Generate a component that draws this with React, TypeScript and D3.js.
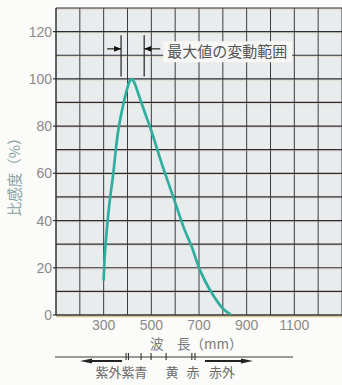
import React from "react";
import * as d3 from "d3";

// Spectral sensitivity curve: wavelength (nm) vs relative sensitivity (%)
const wavelengths = [300, 304, 313, 325, 338, 361, 382, 399, 410, 418, 428, 446, 470, 500, 544, 592, 636, 669, 704, 746, 788, 810, 830];
const sensitivity = [15, 24, 36, 48, 58, 78, 89, 96, 99.2, 100, 98.5, 93.5, 86.5, 78, 64, 50, 37, 29, 19, 10.6, 4.2, 1.8, 0.5];

const xTickLabels = [300, 500, 700, 900, 1100];
const yTickLabels = [0, 20, 40, 60, 80, 100, 120];

// range over which the maximum may shift
const peakRange = [373, 470];
const peakRangeLabel = "最大値の変動範囲";

// colour band boundaries and names along the spectrum bar
const bandTicks = [394, 404, 457, 499, 562, 670, 683];
const bandNames = ["紫外", "紫", "青", "黄", "赤", "赤外"];
const bandNamePos = [320, 402, 456, 587, 675, 797];

const W = 342;
const H = 385;
const m = { left: 56, top: 8, right: 342, bottom: 315 };

export default function App() {
  const x = d3.scaleLinear().domain([100, 1300]).range([m.left, m.right]);
  const y = d3.scaleLinear().domain([0, 130]).range([m.bottom, m.top]);

  const line = d3
    .line<number>()
    .x((_, i) => x(wavelengths[i]))
    .y((d) => y(d))
    .curve(d3.curveCatmullRom.alpha(0.5));

  const vGrid = d3.range(200, 1301, 100);
  const hGrid = d3.range(10, 131, 10);

  const numFont = "'Liberation Sans', 'DejaVu Sans', sans-serif";
  const jpFont = "'Noto Sans CJK JP', sans-serif";

  // annotation geometry
  const aTop = y(118.5);
  const aBot = y(101);
  const aY = y(112.7);
  const xl = x(peakRange[0]);
  const xr = x(peakRange[1]);
  const textX = xr + 23;
  const textY = y(110);

  const barY = 357;
  const arrowY = 361;

  const arrowHead = (tipX: number, tipY: number, dir: number, len = 7, half = 2.8) =>
    `M${tipX},${tipY} L${tipX - dir * len},${tipY - half} L${tipX - dir * len},${tipY + half} Z`;

  return (
    <svg
      width={W}
      height={H}
      style={{ position: "absolute", left: 0, top: 0, background: "#fbfbf9" }}
    >
      {/* plot background */}
      <rect x={m.left} y={m.top} width={m.right - m.left} height={m.bottom - m.top} fill="#e9ecec" />

      {/* vertical grid */}
      {vGrid.map((v) => (
        <line key={"v" + v} x1={x(v)} x2={x(v)} y1={m.top} y2={m.bottom} stroke="#3a3a40" strokeWidth={1} />
      ))}
      {/* horizontal grid */}
      {hGrid.map((v) => (
        <g key={"h" + v}>
          <line x1={m.left} x2={m.right} y1={y(v) + 1.2} y2={y(v) + 1.2} stroke="#cbb583" strokeWidth={0.8} opacity={0.45} />
          <line x1={m.left} x2={m.right} y1={y(v)} y2={y(v)} stroke="#2e2a38" strokeWidth={1.2} />
        </g>
      ))}
      {/* axes */}
      <line x1={m.left} x2={m.right} y1={m.bottom + 1.5} y2={m.bottom + 1.5} stroke="#d6c68e" strokeWidth={1.5} />
      <line x1={m.left} x2={m.right} y1={m.bottom} y2={m.bottom} stroke="#333" strokeWidth={1.5} />
      <line x1={m.left} x2={m.left} y1={m.top} y2={m.bottom} stroke="#333" strokeWidth={1.5} />

      {/* y ticks and labels */}
      {yTickLabels.map((v) => (
        <g key={"yt" + v}>
          <line x1={m.left - 3} x2={m.left} y1={y(v)} y2={y(v)} stroke="#333" strokeWidth={1.2} />
          <text
            x={m.left - 4}
            y={y(v) + 5}
            textAnchor="end"
            fontFamily={numFont}
            fontSize={14}
            fill="#8a8a8a"
          >
            {v}
          </text>
        </g>
      ))}

      {/* x labels */}
      {xTickLabels.map((v) => (
        <text
          key={"xt" + v}
          x={x(v)}
          y={330}
          textAnchor="middle"
          fontFamily={numFont}
          fontSize={14}
          fill="#8a8a8a"
        >
          {v}
        </text>
      ))}

      {/* axis titles */}
      <text
        transform={`translate(20, ${y(60)}) rotate(-90)`}
        textAnchor="middle"
        fontFamily={jpFont}
        fontSize={14.5}
        fill="#86a0a2"
      >
        比感度（%）
      </text>
      <text x={150} y={349} fontFamily={jpFont} fontSize={13.5} fill="#7a7a7a">
        波　長（mm）
      </text>

      {/* peak range annotation */}
      <rect x={textX - 4} y={textY - 14} width={129} height={21} fill="#f7f7f5" />
      <text x={textX} y={textY + 1.5} fontFamily={jpFont} fontSize={15} fill="#555">
        {peakRangeLabel}
      </text>
      <line x1={xl} x2={xl} y1={aTop} y2={aBot} stroke="#222" strokeWidth={1.2} />
      <line x1={xr} x2={xr} y1={aTop} y2={aBot} stroke="#222" strokeWidth={1.2} />
      <line x1={xl - 14} x2={xl} y1={aY} y2={aY} stroke="#222" strokeWidth={1.2} />
      <path d={arrowHead(xl, aY, 1)} fill="#111" />
      <line x1={xr} x2={xr + 16} y1={aY} y2={aY} stroke="#222" strokeWidth={1.2} />
      <path d={arrowHead(xr, aY, -1)} fill="#111" />

      {/* sensitivity curve */}
      <path d={line(sensitivity) || ""} fill="none" stroke="#2fae9e" strokeWidth={2.7} strokeLinejoin="round" strokeLinecap="round" />

      {/* spectrum bar */}
      <line x1={55} x2={293} y1={barY} y2={barY} stroke="#3a3a3a" strokeWidth={1.2} />
      <line x1={x(bandTicks[0]) - 4} x2={x(bandTicks[0]) - 36} y1={arrowY} y2={arrowY} stroke="#222" strokeWidth={2.2} />
      <path d={arrowHead(x(bandTicks[0]) - 46, arrowY, -1, 12, 2.4)} fill="#222" />
      <line x1={x(bandTicks[6]) + 10} x2={x(bandTicks[6]) + 48} y1={arrowY} y2={arrowY} stroke="#222" strokeWidth={2.2} />
      <path d={arrowHead(x(bandTicks[6]) + 58, arrowY, 1, 12, 2.4)} fill="#222" />
      {bandTicks.map((b, i) => (
        <line key={"bt" + i} x1={x(b)} x2={x(b)} y1={barY - 4} y2={barY + 3} stroke="#333" strokeWidth={1.1} />
      ))}
      {bandNames.map((n, i) => (
        <text
          key={"bn" + i}
          x={x(bandNamePos[i])}
          y={377}
          textAnchor="middle"
          fontFamily={jpFont}
          fontSize={13}
          fill="#6a6a6a"
        >
          {n}
        </text>
      ))}
    </svg>
  );
}
